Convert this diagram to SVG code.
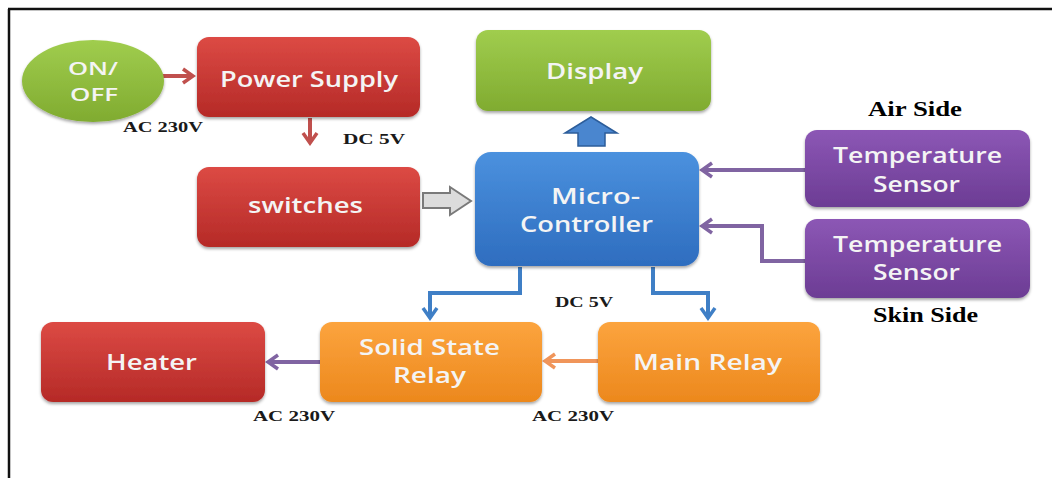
<svg xmlns="http://www.w3.org/2000/svg" width="1052" height="478" viewBox="0 0 1052 478">
<style>
.lbl{font-family:"Open Sans","Noto Sans",sans-serif;font-weight:600;fill:#f4f4f4;font-size:21px}
.sm{font-size:18px}
.note{font-family:"Liberation Serif","Times New Roman",serif;font-weight:bold;fill:#1a1a1a;font-size:15px}
.side{font-family:"Liberation Serif","Times New Roman",serif;font-weight:bold;fill:#000;font-size:20px}
.box{filter:url(#sh)}
.cn{fill:none;stroke-width:4;stroke-linejoin:miter}
</style>
<defs>
<filter id="sh" x="-10%" y="-10%" width="120%" height="130%">
<feDropShadow dx="0" dy="2" stdDeviation="1.8" flood-color="#000" flood-opacity="0.35"/>
</filter>
<linearGradient id="gRed" x1="0" y1="0" x2="0" y2="1"><stop offset="0" stop-color="#dc4a44"/><stop offset="1" stop-color="#b52a27"/></linearGradient>
<linearGradient id="gGreen" x1="0" y1="0" x2="0" y2="1"><stop offset="0" stop-color="#a0cd4e"/><stop offset="1" stop-color="#80ab30"/></linearGradient>
<linearGradient id="gBlue" x1="0" y1="0" x2="0" y2="1"><stop offset="0" stop-color="#4b91de"/><stop offset="1" stop-color="#2e6dbf"/></linearGradient>
<linearGradient id="gPurple" x1="0" y1="0" x2="0" y2="1"><stop offset="0" stop-color="#8c57b5"/><stop offset="1" stop-color="#6c3c94"/></linearGradient>
<linearGradient id="gOrange" x1="0" y1="0" x2="0" y2="1"><stop offset="0" stop-color="#fca43e"/><stop offset="1" stop-color="#ec881d"/></linearGradient>
<marker id="mRed" markerUnits="userSpaceOnUse" markerWidth="16" markerHeight="18" refX="13" refY="9" orient="auto"><path d="M3,2 L13,9 L3,16" fill="none" stroke="#c0504d" stroke-width="3.5"/></marker>
<marker id="mBlue" markerUnits="userSpaceOnUse" markerWidth="16" markerHeight="18" refX="13" refY="9" orient="auto"><path d="M3,2 L13,9 L3,16" fill="none" stroke="#3f7fc6" stroke-width="3.5"/></marker>
<marker id="mPurple" markerUnits="userSpaceOnUse" markerWidth="16" markerHeight="18" refX="13" refY="9" orient="auto"><path d="M3,2 L13,9 L3,16" fill="none" stroke="#8064a2" stroke-width="3.5"/></marker>
<marker id="mOrange" markerUnits="userSpaceOnUse" markerWidth="16" markerHeight="18" refX="13" refY="9" orient="auto"><path d="M3,2 L13,9 L3,16" fill="none" stroke="#f0955a" stroke-width="3.5"/></marker>
</defs>
<rect width="1052" height="478" fill="#ffffff"/>
<path d="M8,9 H1052 M9,9 V478" fill="none" stroke="#111" stroke-width="2.5"/>

<g id="connectors">
<path class="cn" d="M163,76 H193" stroke="#c0504d" marker-end="url(#mRed)"/>
<path class="cn" d="M310,118 V143" stroke="#c0504d" marker-end="url(#mRed)"/>
<polygon points="423,193 450,193 450,187 471,201 450,215 450,208 423,208" fill="#dcdcdc" stroke="#7a7a7a" stroke-width="2"/>
<polygon points="578,146 578,133 565,133 591,117 617,133 605,133 605,146" fill="#4a86cf" stroke="#2c5d9a" stroke-width="1.5"/>
<path class="cn" d="M805,170 H702" stroke="#8064a2" marker-end="url(#mPurple)"/>
<path class="cn" d="M805,261 H762 V226 H702" stroke="#8064a2" marker-end="url(#mPurple)"/>
<path class="cn" d="M520,267 V293 H430 V318" stroke="#3f7fc6" marker-end="url(#mBlue)"/>
<path class="cn" d="M653,267 V293 H708 V318" stroke="#3f7fc6" marker-end="url(#mBlue)"/>
<path class="cn" d="M320,362 H268" stroke="#8064a2" marker-end="url(#mPurple)"/>
<path class="cn" d="M598,361 H545" stroke="#f0955a" marker-end="url(#mOrange)"/>
</g>

<g id="onoff">
<ellipse class="box" cx="93" cy="81" rx="71" ry="41" fill="url(#gGreen)"/>
<text class="lbl sm" x="68" y="75" textLength="50" lengthAdjust="spacingAndGlyphs">ON/</text>
<text class="lbl sm" x="70" y="101" textLength="48" lengthAdjust="spacingAndGlyphs">OFF</text>
</g>
<g id="power-supply">
<rect class="box" x="197" y="37" width="223" height="80" rx="12" fill="url(#gRed)"/>
<text class="lbl" x="220" y="87" textLength="178" lengthAdjust="spacingAndGlyphs">Power Supply</text>
</g>
<g id="switches">
<rect class="box" x="197" y="167" width="223" height="80" rx="12" fill="url(#gRed)"/>
<text class="lbl" x="248" y="213" textLength="115" lengthAdjust="spacingAndGlyphs">switches</text>
</g>
<g id="display">
<rect class="box" x="476" y="30" width="235" height="81" rx="12" fill="url(#gGreen)"/>
<text class="lbl" x="546" y="79" textLength="97" lengthAdjust="spacingAndGlyphs">Display</text>
</g>
<g id="microcontroller">
<rect class="box" x="475" y="152" width="224" height="114" rx="16" fill="url(#gBlue)"/>
<text class="lbl" x="551" y="204" textLength="89" lengthAdjust="spacingAndGlyphs">Micro-</text>
<text class="lbl" x="520" y="232" textLength="133" lengthAdjust="spacingAndGlyphs">Controller</text>
</g>
<g id="sensor-air">
<rect class="box" x="805" y="130" width="225" height="77" rx="12" fill="url(#gPurple)"/>
<text class="lbl" x="833" y="163" textLength="169" lengthAdjust="spacingAndGlyphs">Temperature</text>
<text class="lbl" x="873" y="192" textLength="87" lengthAdjust="spacingAndGlyphs">Sensor</text>
</g>
<g id="sensor-skin">
<rect class="box" x="805" y="219" width="225" height="79" rx="12" fill="url(#gPurple)"/>
<text class="lbl" x="833" y="252" textLength="169" lengthAdjust="spacingAndGlyphs">Temperature</text>
<text class="lbl" x="873" y="280" textLength="87" lengthAdjust="spacingAndGlyphs">Sensor</text>
</g>
<g id="heater">
<rect class="box" x="41" y="322" width="224" height="80" rx="12" fill="url(#gRed)"/>
<text class="lbl" x="106" y="370" textLength="91" lengthAdjust="spacingAndGlyphs">Heater</text>
</g>
<g id="solid-state-relay">
<rect class="box" x="320" y="322" width="222" height="80" rx="12" fill="url(#gOrange)"/>
<text class="lbl" x="359" y="355" textLength="141" lengthAdjust="spacingAndGlyphs">Solid State</text>
<text class="lbl" x="393" y="383" textLength="73" lengthAdjust="spacingAndGlyphs">Relay</text>
</g>
<g id="main-relay">
<rect class="box" x="598" y="322" width="222" height="80" rx="12" fill="url(#gOrange)"/>
<text class="lbl" x="633" y="370" textLength="149" lengthAdjust="spacingAndGlyphs">Main Relay</text>
</g>

<g id="labels">
<text class="note" x="123" y="132" textLength="80" lengthAdjust="spacingAndGlyphs">AC 230V</text>
<text class="note" x="343" y="144" textLength="62" lengthAdjust="spacingAndGlyphs">DC 5V</text>
<text class="note" x="555" y="307" textLength="58" lengthAdjust="spacingAndGlyphs">DC 5V</text>
<text class="note" x="253" y="421" textLength="82" lengthAdjust="spacingAndGlyphs">AC 230V</text>
<text class="note" x="532" y="421" textLength="82" lengthAdjust="spacingAndGlyphs">AC 230V</text>
<text class="side" x="868" y="116" textLength="94" lengthAdjust="spacingAndGlyphs">Air Side</text>
<text class="side" x="873" y="322" textLength="105" lengthAdjust="spacingAndGlyphs">Skin Side</text>
</g>
</svg>
